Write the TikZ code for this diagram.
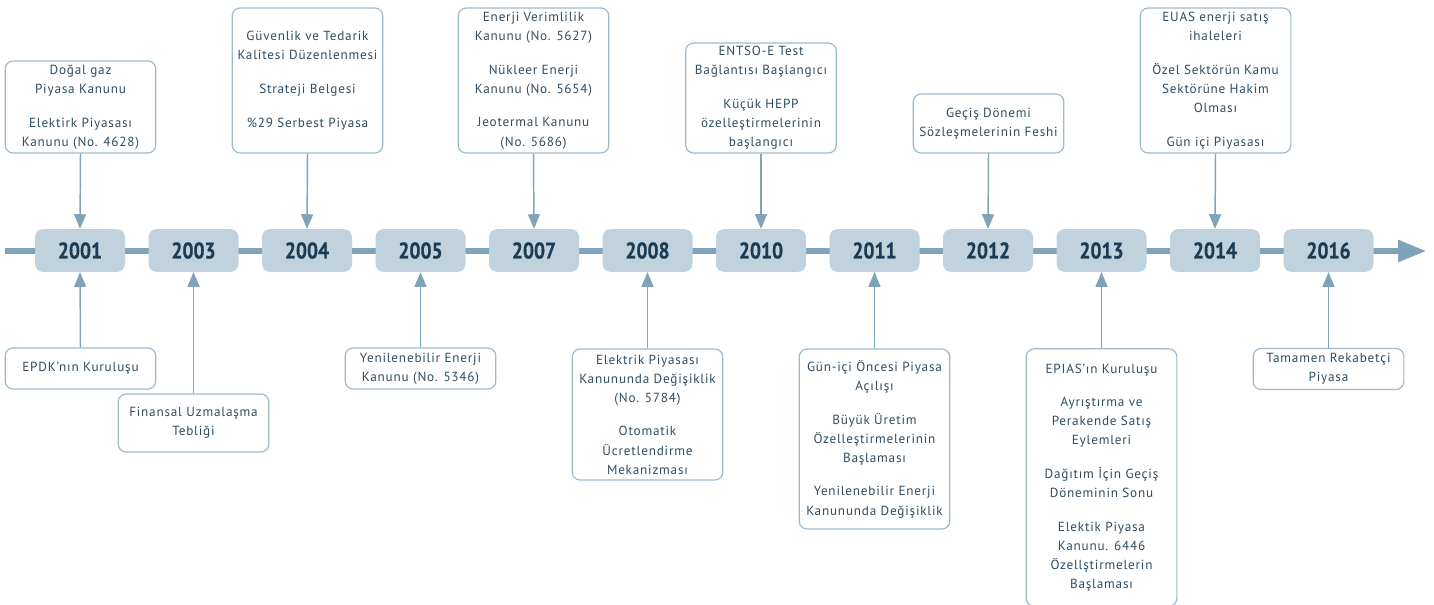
\documentclass[tikz,border=0pt]{standalone}
\usepackage{fontspec}
\setmainfont{PT Sans}[LetterSpace=6]
\newfontfamily\yearfont{PT Sans}[FakeStretch=0.86, FakeBold=0.6]
\usetikzlibrary{arrows.meta}
\definecolor{linec}{HTML}{7FA3B9}
\definecolor{boxc}{HTML}{9DBBCC}
\definecolor{yrfill}{HTML}{BFD2DD}
\definecolor{yrtext}{HTML}{1B3C54}
\definecolor{txtc}{HTML}{2E4D62}
\tikzset{
  yr/.style={fill=yrfill, rounded corners=6pt, minimum width=67.5pt, minimum height=32pt,
    inner sep=0pt, text=yrtext, font=\yearfont\bfseries\fontsize{17}{18}\selectfont},
  evbox/.style={draw=boxc, line width=0.9pt, fill=white, rounded corners=6pt, align=center,
    inner sep=0pt, text=txtc, font=\fontsize{9.9}{14.3}\selectfont, minimum width=113pt},
  conn/.style={draw=linec, line width=1.1pt, -{Triangle[length=11pt,width=9pt]}},
  tline/.style={draw=linec, line width=3.8pt, -{Triangle[length=21pt,width=16pt]}}
}
\newcommand{\pg}{\\[11pt]}
\begin{document}
\begin{tikzpicture}[x=0.75pt,y=-0.75pt]
\useasboundingbox (0,0) rectangle (1434,604);
\coordinate (tlstart) at (5,251);
\coordinate (tlend) at (1426,251);
\draw[tline] (tlstart) -- (tlend);
\foreach \yy/\xx in {2001/80,2003/193.5,2004/307,2005/420.5,2007/534,2008/647.5,2010/761,2011/874.5,2012/988,2013/1101.5,2014/1215,2016/1328.5}{
  \node[yr] (y\yy) at (\xx,250.5) {\yy};
}
% top boxes
\node[evbox, minimum height=69pt] (t2001) at (80.5,107) {Doğal gaz\\Piyasa Kanunu\pg Elektirk Piyasası\\Kanunu (No. 4628)};
\node[evbox, minimum height=108.75pt] (t2004) at (307.5,80.5) {Güvenlik ve Tedarik\\Kalitesi Düzenlenmesi\pg Strateji Belgesi\pg \%29 Serbest Piyasa};
\node[evbox, minimum height=108.75pt] (t2007) at (533.5,80.5) {Enerji Verimlilik\\Kanunu (No. 5627)\pg Nükleer Enerji\\Kanunu (No. 5654)\pg Jeotermal Kanunu\\(No. 5686)};
\node[evbox, minimum height=82.5pt] (t2010) at (761,98) {ENTSO-E Test\\Bağlantısı Başlangıcı\pg Küçük HEPP\\özelleştirmelerinin\\başlangıcı};
\node[evbox, minimum height=44.25pt] (t2012) at (988.5,123.5) {Geçiş Dönemi\\Sözleşmelerinin Feshi};
\node[evbox, minimum height=108.75pt] (t2014) at (1215.5,80.5) {EUAS enerji satış\\ihaleleri\pg Özel Sektörün Kamu\\Sektörüne Hakim\\Olması\pg Gün içi Piyasası};
% bottom boxes
\node[evbox, minimum height=30.75pt] (b2001) at (80.5,368.5) {EPDK’nın Kuruluşu};
\node[evbox, minimum height=43.5pt] (b2003) at (193.5,423) {Finansal Uzmalaşma\\Tebliği};
\node[evbox, minimum height=30.75pt] (b2005) at (420.5,368.5) {Yenilenebilir Enerji\\Kanunu (No. 5346)};
\node[evbox, minimum height=98.25pt] (b2008) at (647.5,414.5) {Elektrik Piyasası\\Kanununda Değişiklik\\(No. 5784)\pg Otomatik\\Ücretlendirme\\Mekanizması};
\node[evbox, minimum height=135pt] (b2011) at (874.5,439) {Gün-içi Öncesi Piyasa\\Açılışı\pg Büyük Üretim\\Özelleştirmelerinin\\Başlaması\pg Yenilenebilir Enerji\\Kanununda Değişiklik};
\node[evbox, minimum height=193pt] (b2013) at (1101.5,477.5) {EPIAS’ın Kuruluşu\pg Ayrıştırma ve\\Perakende Satış\\Eylemleri\pg Dağıtım İçin Geçiş\\Döneminin Sonu\pg Elektik Piyasa\\Kanunu. 6446\\Özellştirmelerin\\Başlaması};
\node[evbox, minimum height=30.75pt] (b2016) at (1328.5,369) {Tamamen Rekabetçi\\Piyasa};
% connectors
\foreach \yy in {2001,2004,2007,2010,2012,2014}{
  \draw[conn] (t\yy.south) -- (y\yy.north);
}
\foreach \yy in {2001,2003,2005,2008,2011,2013,2016}{
  \draw[conn] (b\yy.north) -- (y\yy.south);
}
\end{tikzpicture}
\end{document}
